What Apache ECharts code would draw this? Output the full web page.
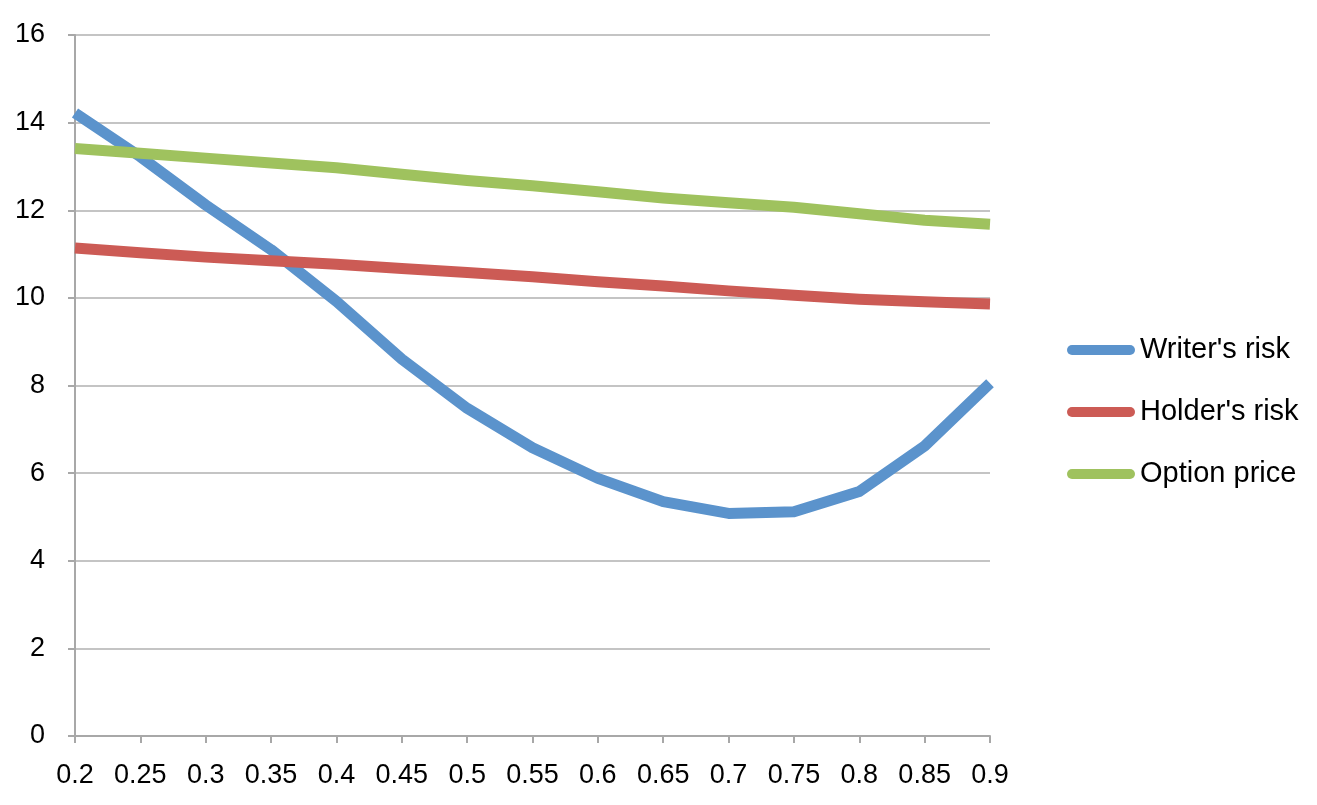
<!DOCTYPE html>
<html>
<head>
<meta charset="utf-8">
<script src="https://cdn.jsdelivr.net/npm/echarts@6/dist/echarts.min.js"></script>
<style>
html,body{margin:0;padding:0;background:#fff;}
#chart{width:1317px;height:805px;}
</style>
</head>
<body>
<div id="chart"></div>
<script>
const categories = ['0.2','0.25','0.3','0.35','0.4','0.45','0.5','0.55','0.6','0.65','0.7','0.75','0.8','0.85','0.9'];
const writersRisk = [14.22, 13.22, 12.12, 11.1, 9.92, 8.6, 7.48, 6.58, 5.88, 5.35, 5.08, 5.12, 5.58, 6.62, 8.05];
const holdersRisk = [11.14, 11.03, 10.93, 10.85, 10.77, 10.67, 10.58, 10.48, 10.37, 10.27, 10.16, 10.06, 9.97, 9.91, 9.86];
const optionPrice = [13.41, 13.3, 13.19, 13.08, 12.97, 12.82, 12.68, 12.56, 12.42, 12.28, 12.17, 12.07, 11.92, 11.77, 11.68];
const seriesNames = ["Writer's risk", "Holder's risk", "Option price"];

const FONT = 'Liberation Sans';
const chart = echarts.init(document.getElementById('chart'), null, {renderer: 'canvas'});
const mk = (name, data, color) => ({
  name, type: 'line', data, showSymbol: false, symbol: 'none', smooth: false,
  lineStyle: {width: 11, color, cap: 'butt', join: 'round'},
  itemStyle: {color}, animation: false
});
chart.setOption({
  animation: false,
  grid: {left: 75, right: 327, top: 35, bottom: 69},
  legend: {
    orient: 'vertical', left: 1062, top: 330,
    itemWidth: 68, itemHeight: 10, itemGap: 32,
    icon: 'path://M5,0 H63 A5,5 0 0 1 63,10 H5 A5,5 0 0 1 5,0 Z',
    textStyle: {fontFamily: FONT, fontSize: 29, color: '#000', lineHeight: 30},
    data: seriesNames
  },
  xAxis: {
    type: 'category', data: categories, boundaryGap: false,
    axisLine: {lineStyle: {color: '#a8a8a8', width: 2}},
    axisTick: {show: true, length: 7, alignWithLabel: true, lineStyle: {color: '#a8a8a8', width: 2}},
    axisLabel: {fontFamily: FONT, fontSize: 27, color: '#000', margin: 26, interval: 0}
  },
  yAxis: {
    type: 'value', min: 0, max: 16, interval: 2,
    axisLine: {show: true, lineStyle: {color: '#a8a8a8', width: 2}},
    axisTick: {show: true, length: 7, lineStyle: {color: '#a8a8a8', width: 2}},
    axisLabel: {fontFamily: FONT, fontSize: 27, color: '#000', margin: 30},
    splitLine: {lineStyle: {color: '#c4c4c4', width: 2}}
  },
  series: [
    mk(seriesNames[0], writersRisk, '#5b93cc'),
    mk(seriesNames[1], holdersRisk, '#cc5b55'),
    mk(seriesNames[2], optionPrice, '#9fc25e')
  ]
});
</script>
</body>
</html>
